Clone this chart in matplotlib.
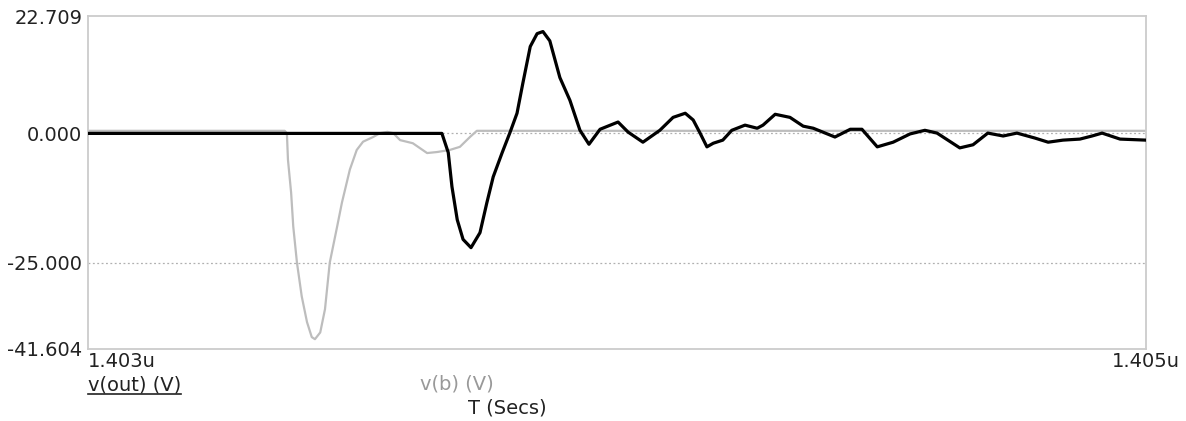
import matplotlib
matplotlib.use("Agg")
import matplotlib.pyplot as plt
from matplotlib.lines import Line2D

plt.rcParams['font.family'] = ['DejaVu Sans']

# Time axis in nanoseconds
T_START, T_END = 1403.0, 1405.0
Y_MIN, Y_MAX = -41.604, 22.709
Y_TICKS = [22.709, 0.0, -25.0, -41.604]
X_TICK_LABELS = ["1.403u", "1.405u"]

# v(b): input pulse
t_b = [1403.000, 1403.372, 1403.376, 1403.378, 1403.384, 1403.388, 1403.395,
       1403.404, 1403.414, 1403.423, 1403.429, 1403.439, 1403.448, 1403.457,
       1403.471, 1403.480, 1403.495, 1403.508, 1403.520, 1403.539, 1403.552,
       1403.566, 1403.577, 1403.590, 1403.614, 1403.641, 1403.660, 1403.684,
       1403.703, 1403.722, 1403.735, 1405.000]
v_b = [0.5, 0.5, 0.0, -5.1, -11.5, -18.0, -25.0,
       -31.5, -36.5, -39.4, -39.8, -38.5, -34.0, -25.0,
       -18.0, -13.4, -7.0, -3.2, -1.6, -0.7, 0.05,
       0.3, 0.05, -1.3, -1.9, -3.8, -3.6, -3.2,
       -2.6, -0.7, 0.5, 0.5]

# v(out): response
t_out = [1403.000, 1403.669, 1403.681, 1403.688, 1403.698, 1403.709, 1403.724,
         1403.741, 1403.754, 1403.766, 1403.783, 1403.798, 1403.811, 1403.822,
         1403.836, 1403.849, 1403.860, 1403.873, 1403.892, 1403.911, 1403.930,
         1403.947, 1403.968, 1404.002, 1404.021, 1404.049, 1404.081, 1404.106,
         1404.129, 1404.144, 1404.157, 1404.170, 1404.182, 1404.200, 1404.217,
         1404.242, 1404.265, 1404.276, 1404.299, 1404.327, 1404.352, 1404.371,
         1404.412, 1404.441, 1404.463, 1404.492, 1404.522, 1404.554, 1404.582,
         1404.605, 1404.648, 1404.673, 1404.701, 1404.730, 1404.756, 1404.790,
         1404.815, 1404.843, 1404.875, 1404.898, 1404.917, 1404.951, 1405.000]
v_out = [0.0, 0.0, -3.7, -10.3, -16.7, -20.5, -22.1,
         -19.2, -13.4, -8.4, -3.7, 0.25, 3.9, 9.7,
         16.8, 19.3, 19.7, 17.9, 10.8, 6.4, 0.6,
         -2.1, 0.8, 2.2, 0.25, -1.7, 0.6, 3.1,
         3.9, 2.6, 0.06, -2.6, -1.9, -1.3, 0.6,
         1.6, 1.0, 1.6, 3.7, 3.1, 1.4, 1.0,
         -0.7, 0.8, 0.8, -2.6, -1.7, -0.1, 0.6,
         0.06, -2.8, -2.2, 0.06, -0.5, 0.06, -0.9,
         -1.7, -1.3, -1.1, -0.5, 0.06, -1.1, -1.3]

W, H = 1186, 421
fig = plt.figure(figsize=(W / 100, H / 100), dpi=100)
ax = fig.add_axes([88 / W, 1 - 348.5 / H, (1146 - 88) / W, (348.5 - 16) / H])

frame_col = "#cccccc"
for s in ax.spines.values():
    s.set_color(frame_col)
    s.set_linewidth(1.3)

# dotted reference lines
for yv in (0.0, -25.0):
    ax.axhline(yv, color="#b0b0b0", lw=0.9, ls=(0, (1.5, 2.0)), zorder=1)

ax.plot(t_b, v_b, color="#bdbdbd", lw=1.6, zorder=2, solid_joinstyle="round")
ax.plot(t_out, v_out, color="black", lw=2.3, zorder=3, solid_joinstyle="round")

ax.set_xlim(T_START, T_END)
ax.set_ylim(Y_MIN, Y_MAX)
ax.set_xticks([])
ax.set_yticks(Y_TICKS)
fs = 14
ax.set_yticklabels([f"{v:.3f}" for v in Y_TICKS], fontsize=fs, color="#222222")
ax.tick_params(axis="y", length=0, pad=4)

ax.text(0.0, -0.012, X_TICK_LABELS[0], transform=ax.transAxes,
        ha="left", va="top", fontsize=fs, color="#222222")
ax.text(1.0, -0.012, X_TICK_LABELS[1], transform=ax.transAxes,
        ha="center", va="top", fontsize=fs, color="#222222")

t_out_lbl = fig.text(88 / W, 1 - 385 / H, "v(out) (V)", ha="left", va="center",
                     fontsize=fs, color="#222222")
fig.text(420 / W, 1 - 384 / H, "v(b) (V)", ha="left", va="center",
         fontsize=fs, color="#999999")
fig.text(468 / W, 1 - 408 / H, "T (Secs)", ha="left", va="center",
         fontsize=fs, color="#222222")

# underline the active trace name
fig.canvas.draw()
bb = t_out_lbl.get_window_extent()
x0, x1 = bb.x0 / W, bb.x1 / W
yl = 1 - 394 / H
fig.add_artist(Line2D([x0, x1], [yl, yl], transform=fig.transFigure,
                      color="#222222", lw=1.2))

fig.savefig("out.png", dpi=100)
